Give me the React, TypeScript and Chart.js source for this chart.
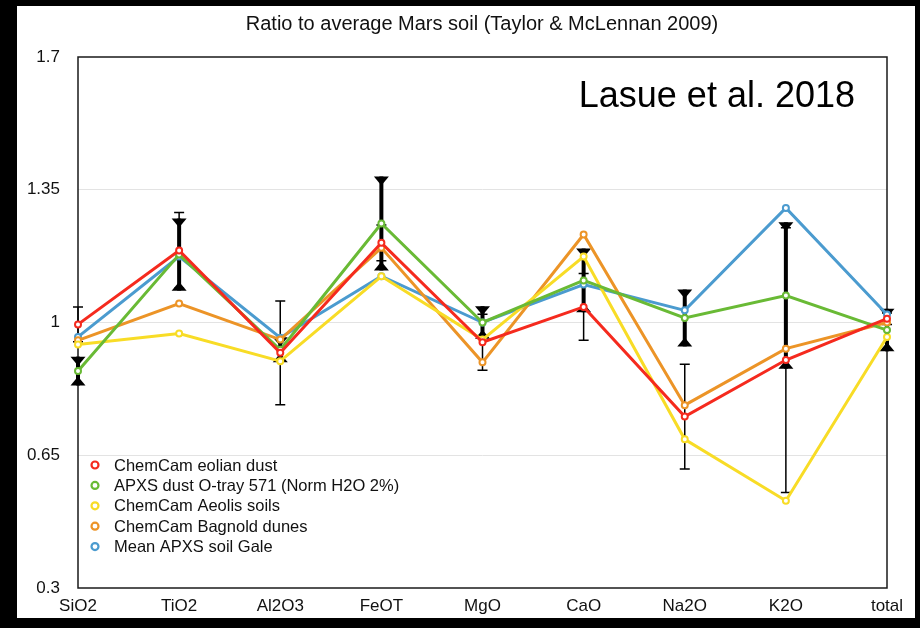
import React, { useEffect, useRef } from 'react';
import { Chart, registerables } from 'chart.js';

Chart.register(...registerables);

// Oxide categories along the x axis
const categories = ['SiO2', 'TiO2', 'Al2O3', 'FeOT', 'MgO', 'CaO', 'Na2O', 'K2O', 'total'];

// Ratio values per dataset
const eolianDust = [0.995, 1.19, 0.92, 1.21, 0.948, 1.041, 0.752, 0.901, 1.01];
const apxsDust = [0.872, 1.179, 0.928, 1.261, 1.0, 1.111, 1.012, 1.071, 0.98];
const aeolisSoils = [0.942, 0.971, 0.898, 1.122, 0.955, 1.174, 0.692, 0.53, 0.962];
const bagnoldDunes = [0.953, 1.05, 0.955, 1.197, 0.895, 1.232, 0.782, 0.931, 1.0];
const meanApxsSoil = [0.962, 1.174, 0.96, 1.122, 1.0, 1.1, 1.032, 1.302, 1.021];

// Uncertainties: thin bars on ChemCam eolian dust, bold bars on APXS dust
const eolianDustErr = [0.046, 0.1, 0.137, 0.047, 0.074, 0.088, 0.138, 0.349, 0.015];
const apxsDustErr = [0.038, 0.095, 0.033, 0.124, 0.043, 0.084, 0.075, 0.193, 0.056];

// Y axis ticks
const yTicks = [0.3, 0.65, 1, 1.35, 1.7];

const seriesNames = [
  'ChemCam eolian dust',
  'APXS dust O-tray 571 (Norm H2O 2%)',
  'ChemCam Aeolis soils',
  'ChemCam Bagnold dunes',
  'Mean APXS soil Gale',
];
const seriesColors = ['#f52a1e', '#69ba35', '#f8dc26', '#ec9427', '#4b9bcf'];
const seriesData = [eolianDust, apxsDust, aeolisSoils, bagnoldDunes, meanApxsSoil];

const FONT = '"Liberation Sans", Arial, Helvetica, sans-serif';

const frameAndBars = {
  id: 'frameAndBars',
  beforeDatasetsDraw(chart: any) {
    const { ctx, chartArea: a, scales } = chart;
    const x = scales.x;
    const y = scales.y;
    ctx.save();
    // plot frame
    ctx.strokeStyle = '#1a1a1a';
    ctx.lineWidth = 1.5;
    ctx.strokeRect(a.left, a.top, a.right - a.left, a.bottom - a.top);

    ctx.strokeStyle = '#000';
    ctx.fillStyle = '#000';
    // bold bars with triangular caps
    apxsDust.forEach((v, i) => {
      const px = x.getPixelForValue(i);
      const top = y.getPixelForValue(v + apxsDustErr[i]);
      const bot = y.getPixelForValue(v - apxsDustErr[i]);
      ctx.lineWidth = 4;
      ctx.beginPath();
      ctx.moveTo(px, top);
      ctx.lineTo(px, bot);
      ctx.stroke();
      ctx.beginPath();
      ctx.moveTo(px - 7.5, top);
      ctx.lineTo(px + 7.5, top);
      ctx.lineTo(px, top + 9);
      ctx.closePath();
      ctx.fill();
      ctx.beginPath();
      ctx.moveTo(px - 7.5, bot);
      ctx.lineTo(px + 7.5, bot);
      ctx.lineTo(px, bot - 9);
      ctx.closePath();
      ctx.fill();
    });
    // thin bars with flat caps
    eolianDust.forEach((v, i) => {
      const px = x.getPixelForValue(i);
      const top = y.getPixelForValue(v + eolianDustErr[i]);
      const bot = y.getPixelForValue(v - eolianDustErr[i]);
      ctx.lineWidth = 1.5;
      ctx.beginPath();
      ctx.moveTo(px, top);
      ctx.lineTo(px, bot);
      ctx.moveTo(px - 5, top);
      ctx.lineTo(px + 5, top);
      ctx.moveTo(px - 5, bot);
      ctx.lineTo(px + 5, bot);
      ctx.stroke();
    });
    ctx.restore();
  },
  afterDraw(chart: any) {
    const { ctx, chartArea: a } = chart;
    ctx.save();
    // title
    ctx.fillStyle = '#111';
    ctx.font = `20px ${FONT}`;
    ctx.textAlign = 'center';
    ctx.textBaseline = 'middle';
    ctx.fillText('Ratio to average Mars soil (Taylor & McLennan 2009)', 465, 18);
    // citation
    ctx.font = `36px ${FONT}`;
    ctx.textAlign = 'right';
    ctx.fillStyle = '#000';
    ctx.fillText('Lasue et al. 2018', a.right - 32, 91);
    // legend inside plot
    ctx.font = `16.5px ${FONT}`;
    ctx.textAlign = 'left';
    seriesNames.forEach((name, i) => {
      const yy = a.bottom - 123 + i * 20.4;
      ctx.beginPath();
      ctx.arc(a.left + 17, yy, 3.5, 0, Math.PI * 2);
      ctx.fillStyle = '#fff';
      ctx.fill();
      ctx.lineWidth = 2.2;
      ctx.strokeStyle = seriesColors[i];
      ctx.stroke();
      ctx.fillStyle = '#111';
      ctx.fillText(name, a.left + 36, yy + 1);
    });
    ctx.restore();
  },
};

export default function App() {
  const ref = useRef<HTMLCanvasElement | null>(null);

  useEffect(() => {
    if (!ref.current) return;
    const chart = new Chart(ref.current, {
      type: 'line',
      data: {
        labels: categories,
        datasets: seriesData.map((d, i) => ({
          label: seriesNames[i],
          data: d,
          borderColor: seriesColors[i],
          backgroundColor: '#fff',
          pointBackgroundColor: '#fff',
          pointBorderColor: seriesColors[i],
          pointRadius: 3,
          pointBorderWidth: 2,
          borderWidth: 3,
          tension: 0,
          clip: false,
        })),
      },
      options: {
        responsive: false,
        animation: false,
        layout: { padding: { top: 51, right: 28, bottom: 0, left: 0 } },
        plugins: {
          legend: { display: false },
          title: { display: false },
          tooltip: { enabled: false },
        },
        scales: {
          x: {
            offset: false,
            grid: { display: false, drawTicks: false },
            border: { display: false },
            ticks: {
              autoSkip: false,
              maxRotation: 0,
              padding: 8,
              color: '#111',
              font: { family: FONT, size: 17 },
            },
            afterFit(scale: any) {
              scale.height = 30;
            },
          },
          y: {
            min: 0.3,
            max: 1.7,
            afterBuildTicks(scale: any) {
              scale.ticks = yTicks.map((v) => ({ value: v }));
            },
            grid: {
              drawTicks: false,
              lineWidth: 1,
              color: (c: any) =>
                c.tick && (c.tick.value === 0.3 || c.tick.value === 1.7) ? 'rgba(0,0,0,0)' : '#e3e3e3',
            },
            border: { display: false },
            ticks: {
              padding: 18,
              color: '#111',
              font: { family: FONT, size: 17 },
              callback: (v: any) => String(v),
            },
            afterFit(scale: any) {
              scale.width = 61;
            },
          },
        },
      },
      plugins: [frameAndBars],
    });
    return () => chart.destroy();
  }, []);

  return (
    <div style={{ position: 'fixed', left: 0, top: 0, width: 920, height: 628, background: '#000' }}>
      <div style={{ position: 'absolute', left: 17, top: 6, width: 898, height: 612, background: '#fff' }}>
        <canvas ref={ref} width={898} height={612} style={{ display: 'block' }} />
      </div>
    </div>
  );
}
